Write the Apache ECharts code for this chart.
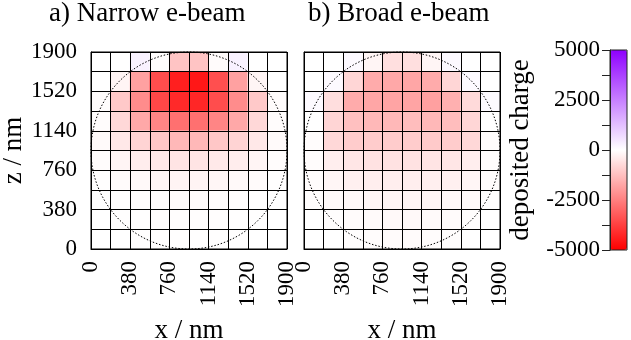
<!DOCTYPE html>
<html>
<head>
<meta charset="utf-8">
<script src="https://cdn.jsdelivr.net/npm/echarts@6/dist/echarts.min.js"></script>
<style>
html,body{margin:0;padding:0;background:#fff;}
#chart{width:631px;height:340px;}
</style>
</head>
<body>
<div id="chart"></div>
<script>
// ---- data ----
const cellSize = 190;
const xEdges = [0, 190, 380, 570, 760, 950, 1140, 1330, 1520, 1710];
const zEdges = [1710, 1520, 1330, 1140, 950, 760, 570, 380, 190, 0]; // rows from top to bottom
const tickLabels = [0, 380, 760, 1140, 1520, 1900];
const colorTicks = [-5000, -2500, 0, 2500, 5000];
const titles = ['a) Narrow e-beam', 'b) Broad e-beam'];

const narrowBeam = [
  [0, 0, 250, -40, -1150, -1150, -80, 250, 0, 0],
  [0, -200, -1850, -3500, -4400, -4550, -3450, -1850, -200, 0],
  [-50, -1050, -2250, -3600, -4200, -4250, -3500, -2250, -1050, -50],
  [-60, -760, -1700, -2400, -2800, -2800, -2400, -1700, -760, -60],
  [-100, -450, -850, -1100, -1400, -1400, -1100, -850, -450, -100],
  [-60, -200, -350, -430, -530, -530, -430, -350, -200, -60],
  [-10, -80, -120, -170, -220, -220, -170, -120, -80, -10],
  [0, -20, -40, -60, -70, -70, -60, -40, -20, 0],
  [0, -10, -20, -30, -30, -30, -30, -20, -10, 0],
  [0, 0, -10, -10, -10, -10, -10, -10, 0, 0]
];

const broadBeam = [
  [0, 0, 120, -200, -620, -620, -200, 120, 0, 0],
  [0, 100, -800, -1650, -1700, -1750, -1650, -800, 100, 0],
  [100, -650, -1650, -1750, -1780, -1780, -1860, -1550, -720, 100],
  [0, -820, -1230, -1390, -1390, -1300, -1390, -1300, -800, 0],
  [-50, -760, -1000, -1000, -1000, -1000, -1040, -1000, -760, -50],
  [-60, -330, -490, -570, -570, -570, -530, -490, -330, -60],
  [-50, -180, -290, -330, -330, -330, -310, -290, -180, -50],
  [-30, -100, -140, -180, -180, -180, -170, -140, -100, -30],
  [0, -40, -80, -100, -110, -110, -100, -80, -40, 0],
  [0, 0, -40, -60, -70, -70, -60, -40, 0, 0]
];

const circle = [[950, 950, 950]]; // centre x, centre z, radius (nm)

// ---- build ----
function toCells(matrix) {
  const out = [];
  matrix.forEach((row, r) => row.forEach((v, c) => out.push([xEdges[c], zEdges[r], v])));
  return out;
}

const FONT = 'Liberation Serif';
const chart = echarts.init(document.getElementById('chart'));

function cellRender(params, api) {
  const x0 = api.value(0), z0 = api.value(1);
  const p0 = api.coord([x0, z0 + cellSize]);
  const p1 = api.coord([x0 + cellSize, z0]);
  return {
    type: 'rect',
    shape: { x: p0[0], y: p0[1], width: p1[0] - p0[0], height: p1[1] - p0[1] },
    style: { fill: api.visual('color'), stroke: api.visual('color'), lineWidth: 0.5 }
  };
}
function circleRender(params, api) {
  const c = api.coord([api.value(0), api.value(1)]);
  const s = api.size([api.value(2), api.value(2)]);
  return {
    type: 'ellipse',
    shape: { cx: c[0], cy: c[1], rx: s[0], ry: s[1] },
    style: { fill: null, stroke: '#000000', lineWidth: 1, lineDash: [1.5, 1.8], opacity: 1 },
    z2: 10
  };
}

const grids = [
  { left: 91, top: 52, width: 196, height: 197 },
  { left: 304, top: 52, width: 196, height: 197 }
];

function xAx(i) {
  return {
    type: 'value', gridIndex: i, min: 0, max: 1900, interval: cellSize, z: 5,
    axisLine: { show: true, lineStyle: { color: '#000', width: 1 } },
    axisTick: { show: false },
    splitLine: { show: true, lineStyle: { color: '#000', width: 1 } },
    axisLabel: {
      rotate: 90, margin: 12, color: '#000', fontFamily: FONT, fontSize: 23,
      formatter: v => tickLabels.indexOf(v) >= 0 ? String(v) : ''
    },
    name: 'x / nm', nameLocation: 'middle', nameGap: 68,
    nameTextStyle: { color: '#000', fontFamily: FONT, fontSize: 27 }
  };
}
function yAx(i, show) {
  return {
    type: 'value', gridIndex: i, min: 0, max: 1900, interval: cellSize, z: 5,
    axisLine: { show: true, lineStyle: { color: '#000', width: 1 } },
    axisTick: { show: false },
    splitLine: { show: true, lineStyle: { color: '#000', width: 1 } },
    axisLabel: {
      show: show, margin: 14, color: '#000', fontFamily: FONT, fontSize: 23,
      formatter: v => tickLabels.indexOf(v) >= 0 ? String(v) : ''
    },
    name: show ? 'z / nm' : '', nameLocation: 'middle', nameRotate: 90, nameGap: 64,
    nameTextStyle: { color: '#000', fontFamily: FONT, fontSize: 27 }
  };
}

const option = {
  backgroundColor: '#fff',
  animation: false,
  grid: [
    Object.assign({ show: true, borderColor: '#000', borderWidth: 1, z: 6, containLabel: false, outerBoundsMode: 'none' }, grids[0]),
    Object.assign({ show: true, borderColor: '#000', borderWidth: 1, z: 6, containLabel: false, outerBoundsMode: 'none' }, grids[1]),
    { left: 610, top: 50, width: 17, height: 200, show: true, borderColor: '#222', borderWidth: 1, z: 10, containLabel: false, outerBoundsMode: 'none' }
  ],
  xAxis: [
    xAx(0), xAx(1),
    { type: 'value', gridIndex: 2, min: 0, max: 1, show: false }
  ],
  yAxis: [
    yAx(0, true), yAx(1, false),
    {
      type: 'value', gridIndex: 2, min: -5000, max: 5000, interval: 1250, position: 'left', z: 10,
      axisLine: { show: true, lineStyle: { color: '#222', width: 1 } },
      axisTick: { show: true, inside: false, length: 8, lineStyle: { color: '#222' } },
      splitLine: { show: false },
      axisLabel: {
        margin: 10, color: '#000', fontFamily: FONT, fontSize: 23,
        formatter: v => colorTicks.indexOf(v) >= 0 ? String(v) : ''
      },
      name: 'deposited charge', nameLocation: 'middle', nameRotate: 90, nameGap: 76,
      nameTextStyle: { color: '#000', fontFamily: FONT, fontSize: 27 }
    }
  ],
  visualMap: {
    type: 'continuous', min: -5000, max: 5000, dimension: 2, seriesIndex: [0, 1],
    calculable: false, realtime: false, hoverLink: false,
    inRange: { color: ['#ff0000', '#ffffff', '#8f00ff'] },
    left: 610, top: 50, itemWidth: 17, itemHeight: 200, padding: 0,
    text: null, textGap: 0, orient: 'vertical'
  },
  graphic: [
    { type: 'text', x: 49, y: 14, style: { text: titles[0], fill: '#000', font: '27px "' + FONT + '"', align: 'left', verticalAlign: 'middle' } },
    { type: 'text', x: 308, y: 14, style: { text: titles[1], fill: '#000', font: '27px "' + FONT + '"', align: 'left', verticalAlign: 'middle' } }
  ],
  series: [
    { type: 'custom', xAxisIndex: 0, yAxisIndex: 0, data: toCells(narrowBeam), renderItem: cellRender, encode: { x: 0, y: 1 }, z: 2 },
    { type: 'custom', xAxisIndex: 1, yAxisIndex: 1, data: toCells(broadBeam), renderItem: cellRender, encode: { x: 0, y: 1 }, z: 2 },
    { type: 'custom', xAxisIndex: 0, yAxisIndex: 0, data: circle, renderItem: circleRender, encode: { x: 0, y: 1 }, z: 8, silent: true, itemStyle: { color: '#000' } },
    { type: 'custom', xAxisIndex: 1, yAxisIndex: 1, data: circle, renderItem: circleRender, encode: { x: 0, y: 1 }, z: 8, silent: true, itemStyle: { color: '#000' } }
  ]
};
chart.setOption(option);
</script>
</body>
</html>
